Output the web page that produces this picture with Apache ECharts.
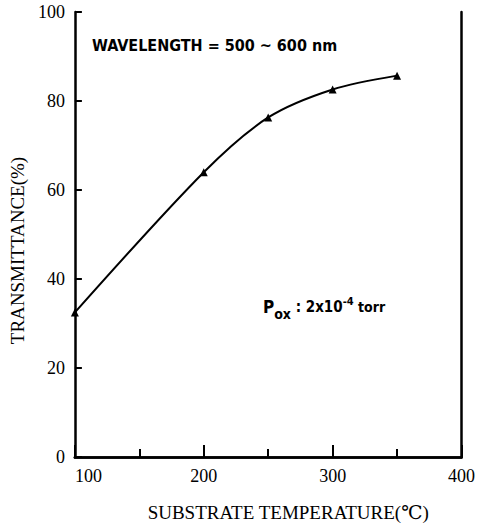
<!DOCTYPE html>
<html>
<head>
<meta charset="utf-8">
<script src="https://cdn.jsdelivr.net/npm/echarts@6/dist/echarts.min.js"></script>
<style>
  html, body { margin: 0; padding: 0; background: #fff; }
  #chart { width: 478px; height: 527px; }
</style>
</head>
<body>
<div id="chart"></div>
<script>
// substrate temperature (C) and transmittance (%)
const temperature = [100, 200, 250, 300, 350];
const transmittance = [32.5, 64, 76.3, 82.6, 85.7];

const xTicks = [100, 200, 300, 400];
const yTicks = [0, 20, 40, 60, 80, 100];

const serif = '"Liberation Serif", "DejaVu Serif", serif';
const sans = '"DejaVu Sans Condensed", "DejaVu Sans", sans-serif';
const ink = '#000';

const chart = echarts.init( document.getElementById( 'chart' ), null, { renderer: 'svg' } );

const axisLine = { show: true, lineStyle: { color: ink, width: 2.5 } };

chart.setOption( {
	animation: false,
	backgroundColor: '#fff',
	grid: { left: 65, right: 9, top: 12, bottom: 70 },
	xAxis: [ {
		type: 'value',
		min: xTicks[ 0 ],
		max: xTicks[ xTicks.length - 1 ],
		interval: 100,
		name: 'SUBSTRATE TEMPERATURE(℃)',
		nameLocation: 'middle',
		nameGap: 46,
		nameTextStyle: { color: ink, fontFamily: serif, fontSize: 19, padding: [ 0, 0, 0, 40 ] },
		axisLine,
		axisTick: { inside: true, length: 12, lineStyle: { color: ink, width: 2 } },
		minorTick: { show: true, splitNumber: 2, length: 8, lineStyle: { color: ink, width: 2 } },
		splitLine: { show: false },
		axisLabel: { color: ink, fontFamily: serif, fontSize: 18, margin: 10, alignMinLabel: 'left' }
	}, {
		type: 'value',
		position: 'top',
		min: xTicks[ 0 ],
		max: xTicks[ xTicks.length - 1 ],
		axisLine,
		axisTick: { show: false },
		axisLabel: { show: false },
		splitLine: { show: false }
	} ],
	yAxis: [ {
		type: 'value',
		min: yTicks[ 0 ],
		max: yTicks[ yTicks.length - 1 ],
		interval: 20,
		name: 'TRANSMITTANCE(%)',
		nameLocation: 'middle',
		nameGap: 40,
		nameTextStyle: { color: ink, fontFamily: serif, fontSize: 19, padding: [ 0, 32, 0, 0 ] },
		axisLine,
		axisTick: { inside: true, length: 7, lineStyle: { color: ink, width: 2 } },
		splitLine: { show: false },
		axisLabel: { color: ink, fontFamily: serif, fontSize: 18, margin: 10 }
	}, {
		type: 'value',
		position: 'right',
		min: yTicks[ 0 ],
		max: yTicks[ yTicks.length - 1 ],
		axisLine,
		axisTick: { show: false },
		axisLabel: { show: false },
		splitLine: { show: false }
	} ],
	series: [ {
		type: 'line',
		data: temperature.map( ( t, i ) => [ t, transmittance[ i ] ] ),
		smooth: 0.3,
		symbol: 'triangle',
		symbolSize: 8,
		itemStyle: { color: ink },
		lineStyle: { color: ink, width: 2 }
	} ],
	graphic: [ {
		type: 'text',
		left: 92,
		top: 37,
		style: {
			text: 'WAVELENGTH = 500 ~ 600 nm',
			fill: ink,
			font: 'bold 16px ' + sans
		}
	}, {
		type: 'text',
		left: 263,
		top: 296,
		style: {
			text: '{p|P}{sub|ox}{b| : 2x10}{sup|-4}{t| torr}',
			fill: ink,
			rich: {
				p: { font: 'bold 17px ' + sans, fill: ink },
				sub: { font: 'bold 14px ' + sans, fill: ink, padding: [ 14, 0, 0, 0 ] },
				b: { font: 'bold 15px ' + sans, fill: ink },
				sup: { font: 'bold 11px ' + sans, fill: ink, padding: [ 0, 0, 10, 0 ] },
				t: { font: 'bold 14px ' + sans, fill: ink }
			}
		}
	} ]
} );
</script>
</body>
</html>
